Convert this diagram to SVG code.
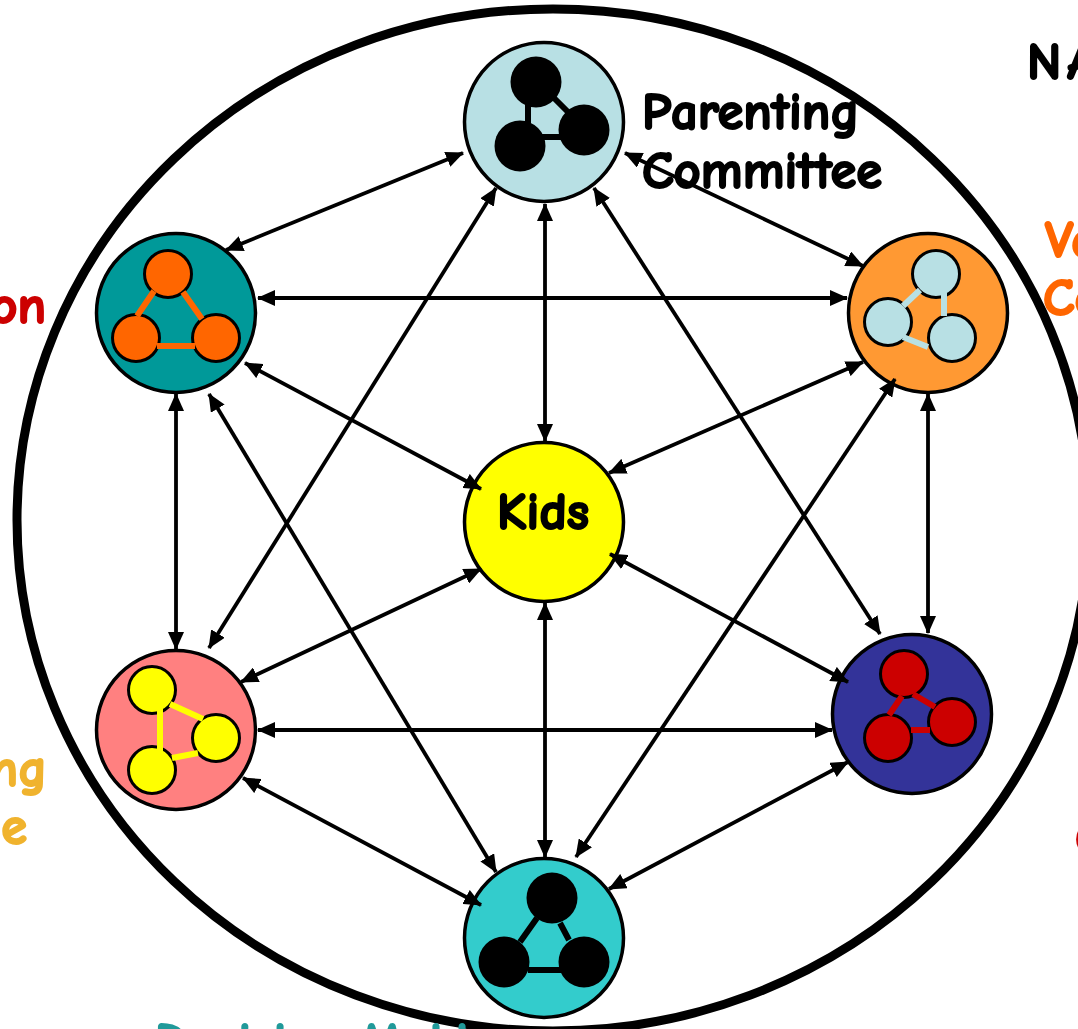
<svg xmlns="http://www.w3.org/2000/svg" width="1078" height="1029" viewBox="0 0 1078 1029">
<style>
.hub{stroke:#000;stroke-width:3.500}
.mini{stroke:#000;stroke-width:3}
.blk{fill:#000}
.link{stroke-width:6;fill:none}
.conn{stroke:#000;stroke-width:3.800;fill:none;marker-start:url(#a);marker-end:url(#a)}
text{font-family:"Comic Sans MS","Comic Neue","DejaVu Sans",sans-serif;font-weight:700;font-size:52.600px;stroke-width:2;stroke-linejoin:round}
.tk{fill:#000;stroke:#000}
.tr{fill:#c00;stroke:#c00}
.to{fill:#f60;stroke:#f60}
.tg{fill:#f0b32e;stroke:#f0b32e}
.tt{fill:#219a9a;stroke:#219a9a}
</style>
<defs>
<marker id="a" viewBox="0 0 18 16" refX="17" refY="8" markerUnits="userSpaceOnUse" markerWidth="18" markerHeight="16" orient="auto-start-reverse"><path d="M0 0L18 8L0 16Z" fill="#000"/></marker>
</defs>
<rect width="1078" height="1029" fill="#fff"/>
<ellipse id="outer" cx="553" cy="520" rx="536" ry="511" fill="none" stroke="#000" stroke-width="9"/>
<g id="parenting">
<circle class="hub" cx="544" cy="122" r="79.500" fill="#b8e0e4"/>
<circle class="blk" cx="536" cy="82" r="25.500"/><circle class="blk" cx="520" cy="146" r="25.500"/><circle class="blk" cx="584" cy="130" r="25.500"/>
<path class="link" stroke="#000" d="M528 103V125M553 97L569 113M538 137H566"/>
<text class="tk" x="642" y="129">Parenting</text><text class="tk" x="642" y="188">Committee</text>
</g>
<g id="teal-committee">
<circle class="hub" cx="176" cy="313" r="79.500" fill="#009999"/>
<circle class="mini" cx="168" cy="274" r="23.500" fill="#f60"/><circle class="mini" cx="136" cy="338" r="23.500" fill="#f60"/><circle class="mini" cx="216" cy="338" r="23.500" fill="#f60"/>
<path class="link" stroke="#f60" d="M154 291L137 316M183 292L202 319M157 346H195"/>
<text class="tr" x="46" y="323" text-anchor="end">on</text>
</g>
<g id="orange-committee">
<circle class="hub" cx="928" cy="313" r="79.500" fill="#f93"/>
<circle class="mini" cx="936" cy="274" r="23.500" fill="#b8e0e4"/><circle class="mini" cx="888" cy="322" r="23.500" fill="#b8e0e4"/><circle class="mini" cx="952" cy="338" r="23.500" fill="#b8e0e4"/>
<path class="link" stroke="#b8e0e4" d="M920 290L903 306M944 293V316M903 337L928 347"/>
<text class="to" x="1045" y="257">Va</text><text class="to" x="1043" y="315">Co</text>
</g>
<g id="kids">
<circle class="hub" cx="544" cy="522" r="79.500" fill="#ff0"/>
<text class="tk" x="497" y="529">Kids</text>
</g>
<g id="pink-committee">
<circle class="hub" cx="176" cy="730" r="79.500" fill="#ff8080"/>
<circle class="mini" cx="152" cy="690" r="23.500" fill="#ff0"/><circle class="mini" cx="216" cy="738" r="23.500" fill="#ff0"/><circle class="mini" cx="152" cy="770" r="23.500" fill="#ff0"/>
<path class="link" stroke="#ff0" d="M160 708V752M170 704L203 719M172 758L198 753"/>
<text class="tg" x="47" y="786" text-anchor="end">ng</text><text class="tg" x="27" y="844" text-anchor="end">e</text>
</g>
<g id="navy-committee">
<circle class="hub" cx="912" cy="714" r="79.500" fill="#339"/>
<circle class="mini" cx="904" cy="674" r="23.500" fill="#c00"/><circle class="mini" cx="888" cy="738" r="23.500" fill="#c00"/><circle class="mini" cx="952" cy="722" r="23.500" fill="#c00"/>
<path class="link" stroke="#c00" d="M902 696L889 715M913 694L935 707M911 730H930"/>
<text class="tr" x="1075" y="855">C</text>
</g>
<g id="decision">
<circle class="hub" cx="544" cy="938" r="79.500" fill="#3cc"/>
<circle class="blk" cx="552" cy="898" r="25.500"/><circle class="blk" cx="504" cy="962" r="25.500"/><circle class="blk" cx="584" cy="962" r="25.500"/>
<path class="link" stroke="#000" d="M537 918L520 942M560 923L569 940M528 970H562"/>
<text class="tt" x="155" y="1059">Decision Making</text>
</g>
<text id="nav" class="tk" x="1027" y="79" letter-spacing="6">NA</text>
<g id="connectors">
<path class="conn" d="M226 250L463 153"/>
<path class="conn" d="M258 298L847 298"/>
<path class="conn" d="M245 363L481 489"/>
<path class="conn" d="M176 394L176 649"/>
<path class="conn" d="M209 394L496 872"/>
<path class="conn" d="M209 648L496 188"/>
<path class="conn" d="M545 204L545 441"/>
<path class="conn" d="M625 153L863 266"/>
<path class="conn" d="M594 188L880 634"/>
<path class="conn" d="M863 362L609 473"/>
<path class="conn" d="M928 394L928 633"/>
<path class="conn" d="M895 379L576 857"/>
<path class="conn" d="M481 569L241 682"/>
<path class="conn" d="M610 554L848 682"/>
<path class="conn" d="M545 603L545 857"/>
<path class="conn" d="M258 730L832 730"/>
<path class="conn" d="M243 778L481 905"/>
<path class="conn" d="M848 762L609 889"/>
</g>
</svg>
